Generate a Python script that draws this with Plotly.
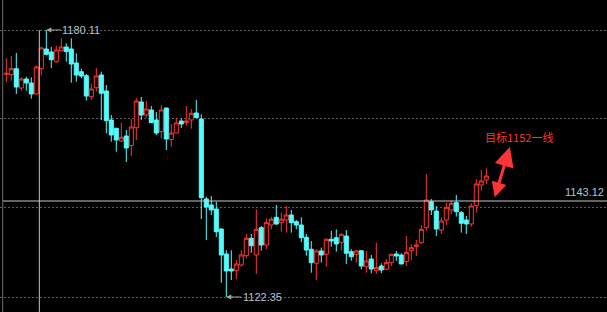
import plotly.graph_objects as go

# ---- data ----
open_ = [1170.53, 1170.44, 1171.74, 1167.56, 1169.51, 1168.65, 1166.27, 1171.74, 1176.00, 1175.35,
         1173.25, 1175.63, 1176.43, 1176.00, 1172.97, 1171.09, 1170.22, 1165.68, 1167.63, 1170.38,
         1166.92, 1160.64, 1158.85, 1156.10, 1157.18, 1155.09, 1158.98, 1164.54, 1161.72, 1162.81,
         1160.64, 1158.11, 1163.24, 1156.43, 1157.83, 1160.43, 1160.06, 1160.64, 1162.16, 1160.86,
         1143.56, 1142.26, 1141.39, 1137.07, 1131.66, 1128.41, 1128.05, 1129.28, 1131.29, 1135.05,
         1131.44, 1137.35, 1133.61, 1137.93, 1139.60, 1138.43, 1139.01, 1140.09, 1138.65, 1137.93,
         1135.27, 1132.68, 1129.65, 1132.31, 1131.59, 1134.84, 1135.18, 1134.19, 1135.55, 1132.16,
         1131.59, 1132.37, 1128.91, 1130.58, 1128.05, 1129.06, 1128.35, 1129.78, 1131.66, 1131.44,
         1130.00, 1132.37, 1133.24, 1134.10, 1137.35, 1142.97, 1140.96, 1136.85, 1139.01, 1141.18,
         1142.76, 1140.59, 1139.01, 1138.15, 1142.11, 1146.58, 1147.67]
high = [1173.99, 1174.49, 1175.14, 1169.88, 1170.01, 1169.88, 1172.47, 1176.50, 1180.11, 1176.43,
        1176.65, 1178.38, 1177.23, 1178.31, 1175.07, 1171.74, 1170.59, 1168.50, 1171.89, 1171.09,
        1168.21, 1161.72, 1158.95, 1160.06, 1158.48, 1160.86, 1165.40, 1165.62, 1164.75, 1163.67,
        1162.37, 1163.89, 1163.30, 1159.78, 1161.01, 1160.97, 1163.67, 1163.02, 1164.97, 1161.87,
        1144.05, 1144.20, 1142.97, 1137.15, 1132.46, 1132.46, 1130.36, 1132.46, 1135.98, 1135.98,
        1141.33, 1137.72, 1139.38, 1139.73, 1142.26, 1140.59, 1142.04, 1141.18, 1139.01, 1139.60,
        1135.98, 1134.47, 1132.68, 1133.02, 1135.05, 1136.63, 1137.00, 1136.14, 1136.85, 1132.68,
        1132.52, 1132.45, 1132.31, 1131.44, 1134.10, 1129.65, 1130.58, 1131.66, 1132.31, 1131.81,
        1135.55, 1133.76, 1134.69, 1137.93, 1148.96, 1143.56, 1142.04, 1139.60, 1142.76, 1143.19,
        1144.42, 1140.96, 1139.88, 1142.62, 1147.82, 1149.83, 1150.20]
low = [1168.80, 1169.14, 1166.27, 1166.98, 1166.98, 1165.25, 1166.12, 1170.38, 1174.64, 1171.89,
       1173.04, 1175.50, 1173.25, 1168.71, 1168.93, 1169.66, 1164.82, 1165.03, 1166.85, 1160.64,
       1157.77, 1155.95, 1153.78, 1155.95, 1151.56, 1152.86, 1156.32, 1160.64, 1161.14, 1160.00,
       1157.40, 1156.68, 1154.15, 1154.87, 1157.72, 1158.91, 1159.45, 1158.76, 1161.01, 1139.23,
       1134.69, 1140.09, 1135.33, 1125.45, 1122.35, 1126.03, 1126.25, 1128.91, 1130.73, 1131.94,
       1127.33, 1132.37, 1132.68, 1137.00, 1137.93, 1136.48, 1136.27, 1136.27, 1137.00, 1134.19,
       1131.29, 1127.61, 1126.03, 1129.78, 1128.91, 1133.24, 1132.16, 1132.37, 1129.50, 1130.21,
       1129.78, 1128.35, 1127.61, 1127.48, 1127.33, 1127.48, 1128.20, 1129.06, 1130.21, 1129.45,
       1129.06, 1130.36, 1131.23, 1133.82, 1136.70, 1140.09, 1135.55, 1135.98, 1137.93, 1140.31,
       1139.73, 1136.27, 1135.98, 1137.56, 1140.59, 1145.35, 1146.80]
close = [1170.74, 1171.74, 1167.78, 1169.51, 1168.65, 1166.27, 1172.11, 1176.22, 1174.85, 1173.69,
         1175.78, 1176.43, 1175.42, 1172.75, 1170.38, 1170.16, 1165.83, 1167.35, 1170.16, 1166.42,
         1160.49, 1157.40, 1156.32, 1156.90, 1154.59, 1159.13, 1164.75, 1161.72, 1163.02, 1160.06,
         1157.83, 1162.81, 1156.53, 1157.83, 1160.00, 1159.78, 1160.43, 1162.09, 1161.18, 1143.84,
         1141.82, 1141.18, 1136.48, 1131.44, 1127.98, 1127.98, 1129.50, 1131.44, 1135.05, 1133.45,
         1137.00, 1133.61, 1138.43, 1139.17, 1138.15, 1139.17, 1140.09, 1138.43, 1137.93, 1135.18,
         1132.52, 1129.78, 1132.31, 1131.44, 1134.84, 1134.47, 1133.82, 1135.92, 1131.81, 1131.07,
         1132.31, 1129.06, 1130.15, 1128.41, 1128.70, 1128.20, 1129.78, 1131.59, 1131.23, 1129.50,
         1132.03, 1133.02, 1133.61, 1137.00, 1143.34, 1141.18, 1137.07, 1138.80, 1141.76, 1142.62,
         1140.81, 1138.30, 1138.15, 1142.04, 1146.80, 1147.45, 1148.53]
idx = list(range(len(open_)))

hi_idx, hi_val = 8, 1180.11
lo_idx, lo_val = 44, 1122.35
cross_idx, cross_val = 6.6, 1143.12
grid_vals = [1180.11, 1160.86, 1141.61, 1122.35]
target_text = "目标1152一线"
target_pos = (95.3, 1157.0)
arrow_tail = (97.6, 1143.6)
arrow_head = (100.7, 1154.8)

RED = "#ff3434"
CYAN = "#54fcfc"
LABEL = "#b9c1cc"

fig = go.Figure()
fig.add_trace(go.Candlestick(
    x=idx, open=open_, high=high, low=low, close=close,
    increasing=dict(line=dict(color=RED, width=1), fillcolor="#000000"),
    decreasing=dict(line=dict(color=CYAN, width=1), fillcolor=CYAN),
    whiskerwidth=0, showlegend=False, hoverinfo="skip"))

# crosshair
fig.add_shape(type="line", xref="paper", x0=0.0045, x1=1, yref="y", y0=cross_val, y1=cross_val,
              line=dict(color="#c8c8c8", width=1))
fig.add_shape(type="line", xref="x", x0=cross_idx, x1=cross_idx, yref="y", y0=hi_val, y1=1100,
              line=dict(color="#c8c8c8", width=1))
# left border line
fig.add_shape(type="line", xref="paper", x0=0.0045, x1=0.0045, yref="paper", y0=0, y1=1,
              line=dict(color="#707070", width=1))

font_num = dict(family="Liberation Sans, Arial, sans-serif", size=11, color=LABEL)
fig.add_annotation(x=hi_idx, y=hi_val, text=f"{hi_val:.2f}", showarrow=True, ax=35, ay=0,
                   arrowhead=2, arrowsize=1, arrowwidth=1, arrowcolor="#a8a8a8",
                   font=font_num, xanchor="center", yanchor="middle")
fig.add_annotation(x=lo_idx, y=lo_val, text=f"{lo_val:.2f}", showarrow=True, ax=36, ay=0,
                   arrowhead=2, arrowsize=1, arrowwidth=1, arrowcolor="#a8a8a8",
                   font=font_num, xanchor="center", yanchor="middle")
fig.add_annotation(xref="paper", x=0.998, y=cross_val, text=f"{cross_val:.2f}", showarrow=False,
                   xanchor="right", yanchor="bottom", yshift=1, font=font_num)
fig.add_annotation(xref="x", x=target_pos[0], y=target_pos[1], text=target_text, showarrow=False,
                   xanchor="left", yanchor="middle",
                   font=dict(family="Noto Sans CJK SC", size=11, color=RED))
fig.add_annotation(x=arrow_head[0], y=arrow_head[1], ax=arrow_tail[0], ay=arrow_tail[1],
                   axref="x", ayref="y", text="", showarrow=True, arrowside="end+start",
                   arrowhead=2, startarrowhead=2, arrowsize=1.3, startarrowsize=1.0,
                   arrowwidth=3, arrowcolor=RED)

fig.update_layout(
    width=607, height=312, margin=dict(l=0, r=0, t=0, b=0),
    paper_bgcolor="#000000", plot_bgcolor="#000000",
    boxgap=0.1, boxgroupgap=0.1,
    xaxis=dict(range=[-1.26, 120.14], showgrid=False, zeroline=False, showticklabels=False,
               rangeslider=dict(visible=False), showline=False, ticks=""),
    yaxis=dict(range=[1119.11, 1186.60], tickvals=grid_vals, showticklabels=False,
               showgrid=True, gridcolor="#5c5c5c", griddash="2px,2px", gridwidth=1,
               zeroline=False, showline=False, ticks=""),
)

fig.write_html("out.html", config={"displayModeBar": False})
